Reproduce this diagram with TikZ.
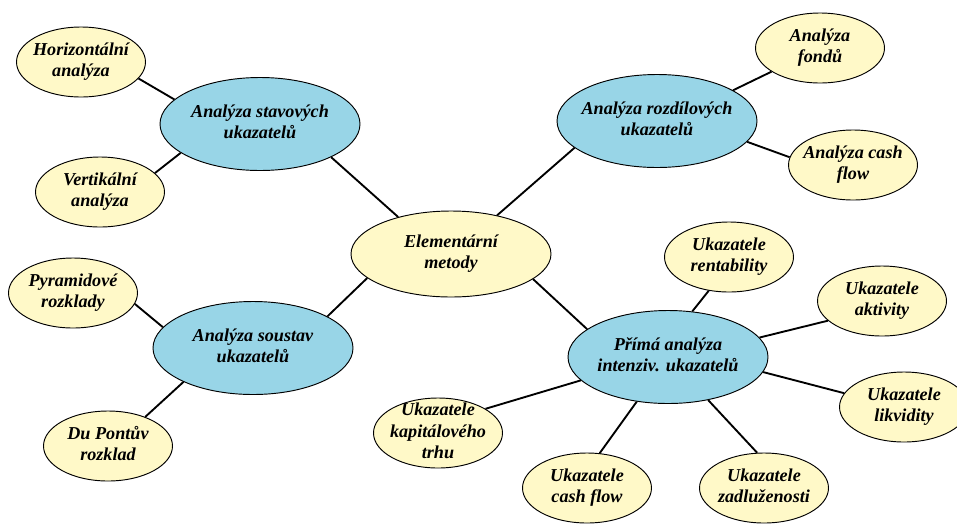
\documentclass[tikz,border=0pt]{standalone}
\usepackage{fontspec}
\setmainfont{Liberation Serif}
\usetikzlibrary{shapes.geometric}
\definecolor{leafyellow}{RGB}{255,249,200}
\definecolor{hubblue}{RGB}{152,213,231}
\newcommand{\ovaltext}[1]{\smash{\makebox[0pt][c]{\raisebox{-0.22em}{\begin{tabular}{@{}c@{}}#1\end{tabular}}}}}
\tikzset{
  base/.style={ellipse, draw=black, line width=0.8pt, inner sep=0pt,
    font=\fontsize{15.5}{18.5}\selectfont\bfseries\itshape},
  leaf/.style={base, fill=leafyellow, minimum width=129*0.03cm, minimum height=70*0.03cm},
  hub/.style={base, fill=hubblue, minimum width=200*0.03cm, minimum height=93*0.03cm},
  core/.style={base, fill=leafyellow, minimum width=200*0.03cm, minimum height=86*0.03cm},
  link/.style={line width=1.6pt, black}
}
\begin{document}
\begin{tikzpicture}[x=0.03cm, y=-0.03cm]
\useasboundingbox (0,0) rectangle (957,523);
\fill[white] (0,0) rectangle (957,523);
% nodes
\node[leaf] (hor)  at (81,62)   {\ovaltext{Horizontální\\analýza}};
\node[hub]  (stav) at (260,124) {\ovaltext{Analýza stavových\\ukazatelů}};
\node[leaf] (vert) at (100,192) {\ovaltext{Vertikální\\analýza}};
\node[leaf] (fond) at (820,48)  {\ovaltext{Analýza\\fondů}};
\node[hub]  (rozd) at (657,121) {\ovaltext{Analýza rozdílových\\ukazatelů}};
\node[leaf] (acf)  at (853,165) {\ovaltext{Analýza cash\\flow}};
\node[leaf] (pyr)  at (73,293)  {\ovaltext{Pyramidové\\rozklady}};
\node[hub]  (sous) at (253,348) {\ovaltext{Analýza soustav\\ukazatelů}};
\node[leaf] (dup)  at (108,446) {\ovaltext{Du Pontův\\rozklad}};
\node[core] (elem) at (451,254) {\ovaltext{Elementární\\metody}};
\node[hub]  (prim) at (668,357) {\ovaltext{Přímá analýza\\intenziv. ukazatelů}};
\node[leaf] (rent) at (729,257) {\ovaltext{Ukazatele\\rentability}};
\node[leaf] (akt)  at (882,301) {\ovaltext{Ukazatele\\aktivity}};
\node[leaf] (likv) at (904,407) {\ovaltext{Ukazatele\\likvidity}};
\node[leaf] (kap)  at (438,433) {\ovaltext{Ukazatele\\kapitálového\\trhu}};
\node[leaf] (ucf)  at (587,488) {\ovaltext{Ukazatele\\cash flow}};
\node[leaf] (zad)  at (764,488) {\ovaltext{Ukazatele\\zadluženosti}};
% connectors
\draw[link] (hor.-16) -- (stav.164);
\draw[link] (vert.19) -- (stav.200);
\draw[link] (stav.-25) -- (elem.145);
\draw[link] (rozd.22) -- (fond.206);
\draw[link] (rozd.-13) -- (acf.173);
\draw[link] (rozd.198) -- (elem.40);
\draw[link] (pyr.-10) -- (sous.167);
\draw[link] (dup.38) -- (sous.206);
\draw[link] (sous.23) -- (elem.196);
\draw[link] (elem.-17) -- (prim.161);
\draw[link] (prim.62) -- (rent.239);
\draw[link] (prim.12) -- (akt.200);
\draw[link] (prim.-9) -- (likv.167);
\draw[link] (prim.195) -- (kap.27);
\draw[link] (prim.235) -- (ucf.70);
\draw[link] (prim.-47) -- (zad.101);
\end{tikzpicture}
\end{document}
